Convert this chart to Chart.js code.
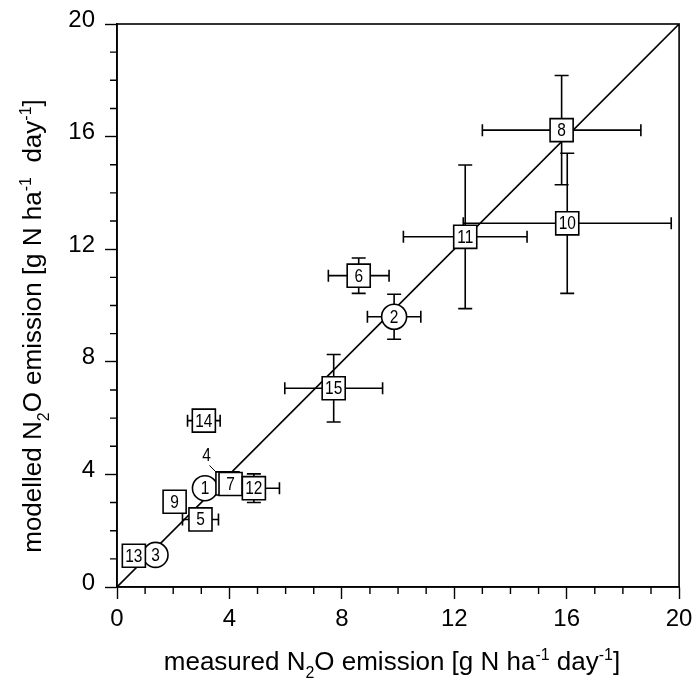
<!DOCTYPE html>
<html>
<head>
<meta charset="utf-8">
<script src="https://cdn.jsdelivr.net/npm/chart.js@4"></script>
<style>
  html, body { margin: 0; padding: 0; background: #fff; }
  #wrap { width: 697px; height: 693px; }
</style>
</head>
<body>
<div id="wrap"><canvas id="chart" width="697" height="693"></canvas></div>
<script>
// point numbers shown inside the markers
const siteLabels = ['1','2','3','4','5','6','7','8','9','10','11','12','13','14','15'];
// marker type per site
const siteShapes = ['circle','circle','circle','rect','rect','rect','rect','rect','rect','rect','rect','rect','rect','rect','rect'];
// measured N2O emission (x)
const measured = [3.13, 9.86, 1.37, 3.93, 2.97, 8.60, 4.04, 15.82, 2.05, 16.02, 12.39, 4.87, 0.60, 3.09, 7.71];
// modelled N2O emission (y)
const modelled = [3.51, 9.60, 1.14, 3.68, 2.40, 11.06, 3.66, 16.23, 3.03, 12.92, 12.44, 3.51, 1.11, 5.91, 7.06];
// error bars (+/-), 0 = none
const measuredErr = [0, 0.95, 0, 0, 0.64, 1.08, 0, 2.82, 0, 3.70, 2.20, 0.91, 0, 0.58, 1.74];
const modelledErr = [0, 0.80, 0, 0, 0, 0.63, 0, 1.94, 0, 2.49, 2.55, 0.51, 0, 0, 1.20];
// 1:1 line
const lineX = [0, 20];
const lineY = [0, 20];
// axis range / ticks
const axisMin = 0;
const axisMax = 20;
const majorStep = 4;
const minorStep = 1;

const FONT = '"Liberation Sans", Arial, sans-serif';

// draws text with sub/superscript pieces, centred on (0,0)
function drawRichText(ctx, parts, size) {
  const small = Math.round(size * 0.62);
  let total = 0;
  parts.forEach(p => {
    ctx.font = (p.sub || p.sup ? small : size) + 'px ' + FONT;
    p.w = ctx.measureText(p.t).width;
    total += p.w;
  });
  let x = -total / 2;
  ctx.textBaseline = 'middle';
  ctx.textAlign = 'left';
  parts.forEach(p => {
    ctx.font = (p.sub || p.sup ? small : size) + 'px ' + FONT;
    let dy = 0;
    if (p.sub) dy = size * 0.4;
    if (p.sup) dy = -size * 0.3;
    ctx.fillText(p.t, x, dy);
    x += p.w;
  });
}

const xTitle = [{t:'measured N'},{t:'2',sub:true},{t:'O emission [g N ha'},{t:'-1',sup:true},{t:' day'},{t:'-1',sup:true},{t:']'}];
const yTitle = [{t:'modelled N'},{t:'2',sub:true},{t:'O emission [g N ha'},{t:'-1',sup:true},{t:'  day'},{t:'-1',sup:true},{t:']'}];

const extrasPlugin = {
  id: 'extras',
  beforeDatasetsDraw(chart) {
    // error bars go under the markers
    const ctx = chart.ctx;
    const xs = chart.scales.x, ys = chart.scales.y;
    ctx.save();
    ctx.strokeStyle = '#000';
    ctx.lineWidth = 1.6;
    for (let i = 0; i < measured.length; i++) {
      const px = xs.getPixelForValue(measured[i]);
      const py = ys.getPixelForValue(modelled[i]);
      if (measuredErr[i] > 0) {
        const x1 = xs.getPixelForValue(measured[i] - measuredErr[i]);
        const x2 = xs.getPixelForValue(measured[i] + measuredErr[i]);
        ctx.beginPath();
        ctx.moveTo(x1, py); ctx.lineTo(x2, py);
        ctx.moveTo(x1, py - 6); ctx.lineTo(x1, py + 6);
        ctx.moveTo(x2, py - 6); ctx.lineTo(x2, py + 6);
        ctx.stroke();
      }
      if (modelledErr[i] > 0) {
        const y1 = ys.getPixelForValue(modelled[i] - modelledErr[i]);
        const y2 = ys.getPixelForValue(modelled[i] + modelledErr[i]);
        ctx.beginPath();
        ctx.moveTo(px, y1); ctx.lineTo(px, y2);
        ctx.moveTo(px - 7, y1); ctx.lineTo(px + 7, y1);
        ctx.moveTo(px - 7, y2); ctx.lineTo(px + 7, y2);
        ctx.stroke();
      }
    }
    ctx.restore();
  },
  afterDatasetsDraw(chart) {
    const ctx = chart.ctx;
    const xs = chart.scales.x, ys = chart.scales.y;
    const a = chart.chartArea;
    ctx.save();
    // frame top + right
    ctx.strokeStyle = '#000';
    ctx.lineWidth = 1.6;
    ctx.strokeRect(a.left, a.top, a.right - a.left, a.bottom - a.top);
    // minor ticks
    ctx.lineWidth = 1.4;
    ctx.beginPath();
    for (let v = axisMin; v <= axisMax; v += minorStep) {
      if (v % majorStep === 0) continue;
      const px = xs.getPixelForValue(v);
      ctx.moveTo(px, a.bottom); ctx.lineTo(px, a.bottom + 7);
      const py = ys.getPixelForValue(v);
      ctx.moveTo(a.left, py); ctx.lineTo(a.left - 7, py);
    }
    ctx.stroke();
    // numbers inside the markers (slightly condensed like the original)
    ctx.fillStyle = '#000';
    ctx.font = '18px ' + FONT;
    ctx.textAlign = 'center';
    ctx.textBaseline = 'middle';
    for (let i = 0; i < measured.length; i++) {
      const px = xs.getPixelForValue(measured[i]);
      const py = ys.getPixelForValue(modelled[i]);
      let tx = px, ty = py + 1;
      if (siteLabels[i] === '4') {
        // hidden behind 7, label outside with a leader line
        tx = px - 21; ty = py - 27;
        ctx.beginPath();
        ctx.lineWidth = 1;
        ctx.moveTo(px - 18, py - 18);
        ctx.lineTo(px - 11, py - 11);
        ctx.stroke();
      }
      ctx.save();
      ctx.translate(tx, ty);
      ctx.scale(0.86, 1);
      ctx.fillText(siteLabels[i], 0, 0);
      ctx.restore();
    }
    // axis titles
    ctx.save();
    ctx.translate(392, 663);
    drawRichText(ctx, xTitle, 26);
    ctx.restore();
    ctx.save();
    ctx.translate(34, 326);
    ctx.rotate(-Math.PI / 2);
    drawRichText(ctx, yTitle, 26);
    ctx.restore();
    ctx.restore();
  }
};

const pts = measured.map((x, i) => ({ x: x, y: modelled[i] }));

new Chart(document.getElementById('chart'), {
  type: 'scatter',
  data: {
    datasets: [
      {
        label: 'sites',
        data: pts,
        pointStyle: siteShapes,
        pointRadius: siteShapes.map(s => s === 'circle' ? 12.5 : 16.3),
        pointBackgroundColor: '#fff',
        pointBorderColor: '#000',
        pointBorderWidth: 1.6,
        order: 1
      },
      {
        label: '1:1',
        type: 'line',
        data: lineX.map((x, i) => ({ x: x, y: lineY[i] })),
        borderColor: '#000',
        borderWidth: 1.6,
        pointRadius: 0,
        fill: false,
        order: 2
      }
    ]
  },
  options: {
    responsive: false,
    animation: false,
    events: [],
    layout: { padding: { top: 24, right: 16, left: 0, bottom: 0 } },
    plugins: { legend: { display: false }, tooltip: { enabled: false } },
    scales: {
      x: {
        type: 'linear',
        min: axisMin, max: axisMax,
        afterFit(s) { s.height = 106; s.paddingLeft = 0; s.paddingRight = 0; },
        afterBuildTicks(s) {
          s.ticks = [];
          for (let v = axisMin; v <= axisMax; v += majorStep) s.ticks.push({ value: v });
        },
        border: { display: true, color: '#000', width: 1.6 },
        grid: { drawOnChartArea: false, drawTicks: true, tickLength: 12, tickColor: '#000', tickWidth: 1.4 },
        ticks: { color: '#000', font: { family: FONT, size: 24 }, padding: 6, maxRotation: 0 }
      },
      y: {
        type: 'linear',
        min: axisMin, max: axisMax,
        afterFit(s) { s.width = 117; s.paddingTop = 0; s.paddingBottom = 0; },
        afterBuildTicks(s) {
          s.ticks = [];
          for (let v = axisMin; v <= axisMax; v += majorStep) s.ticks.push({ value: v });
        },
        border: { display: true, color: '#000', width: 1.6 },
        grid: { drawOnChartArea: false, drawTicks: true, tickLength: 12, tickColor: '#000', tickWidth: 1.4 },
        ticks: { color: '#000', font: { family: FONT, size: 24 }, padding: 10, labelOffset: -4 }
      }
    }
  },
  plugins: [extrasPlugin]
});
</script>
</body>
</html>
